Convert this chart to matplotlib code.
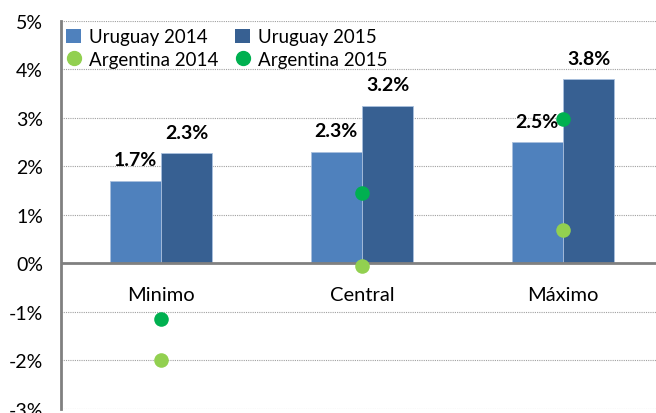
import matplotlib
matplotlib.use("Agg")
import matplotlib.pyplot as plt
from matplotlib.lines import Line2D
from matplotlib.patches import Patch
import numpy as np

plt.rcParams['font.family'] = ['Lato', 'DejaVu Sans']

categories = ["Minimo", "Central", "Máximo"]
uru_2014 = [1.7, 2.3, 2.5]
uru_2015 = [2.27, 3.25, 3.8]
uru_2014_labels = ["1.7%", "2.3%", "2.5%"]
uru_2015_labels = ["2.3%", "3.2%", "3.8%"]
arg_2014 = [-2.0, -0.06, 0.68]
arg_2015 = [-1.15, 1.45, 2.98]
yticks = [-3, -2, -1, 0, 1, 2, 3, 4, 5]
ytick_labels = ["-3%", "-2%", "-1%", "0%", "1%", "2%", "3%", "4%", "5%"]

c_u14 = "#4F81BD"
c_u15 = "#376092"
c_a14 = "#92D050"
c_a15 = "#00B050"

fig = plt.figure(figsize=(6.56, 4.14), dpi=100)
ax = fig.add_axes([0.093, 0.01, 0.907, 0.937])

x = np.arange(len(categories))
w = 0.255
ax.bar(x - w / 2, uru_2014, w, color=c_u14, edgecolor="#A9C0DE", linewidth=0.6, zorder=2)
ax.bar(x + w / 2, uru_2015, w, color=c_u15, edgecolor="#A9C0DE", linewidth=0.6, zorder=2)
ax.scatter(x, arg_2014, s=110, color=c_a14, zorder=4, linewidths=0)
ax.scatter(x, arg_2015, s=110, color=c_a15, zorder=4, linewidths=0)

for xi, v, lab in zip(x - w / 2, uru_2014, uru_2014_labels):
    ax.annotate(lab, (xi, v), xytext=(0, 9), textcoords="offset points",
                ha="center", va="bottom", fontsize=14, fontweight="bold")
for xi, v, lab in zip(x + w / 2, uru_2015, uru_2015_labels):
    ax.annotate(lab, (xi, v), xytext=(0, 9), textcoords="offset points",
                ha="center", va="bottom", fontsize=14, fontweight="bold")

for xi, cat in zip(x, categories):
    ax.text(xi, -0.64, cat, ha="center", va="center", fontsize=14.5)

ax.set_xlim(-0.4975, 2.463)
ax.set_ylim(-3, 5)
ax.set_yticks(yticks)
ax.set_yticklabels(ytick_labels, fontsize=14)
ax.set_xticks([])
ax.tick_params(axis="y", length=0, pad=13)
ax.grid(axis="y", color="#A0A0A0", linestyle=(0, (1, 1)), linewidth=0.8, zorder=0)
ax.set_axisbelow(True)
ax.axhline(0, color="#808080", linewidth=2, zorder=3)
for s in ["top", "right", "bottom"]:
    ax.spines[s].set_visible(False)
ax.spines["left"].set_color("#808080")
ax.spines["left"].set_linewidth(2)

handles = [
    Patch(facecolor=c_u14, label="Uruguay 2014"),
    Line2D([], [], marker="o", linestyle="", markersize=10, color=c_a14, label="Argentina 2014"),
    Patch(facecolor=c_u15, label="Uruguay 2015"),
    Line2D([], [], marker="o", linestyle="", markersize=10, color=c_a15, label="Argentina 2015"),
]
leg = ax.legend(handles=handles, ncol=2, loc="upper left", bbox_to_anchor=(-0.01, 1.01),
                frameon=False, fontsize=13.5, handlelength=0.8, handleheight=0.8,
                handletextpad=0.4, columnspacing=0.9, labelspacing=0.3, borderaxespad=0.2)

fig.savefig("out.png", dpi=100)
